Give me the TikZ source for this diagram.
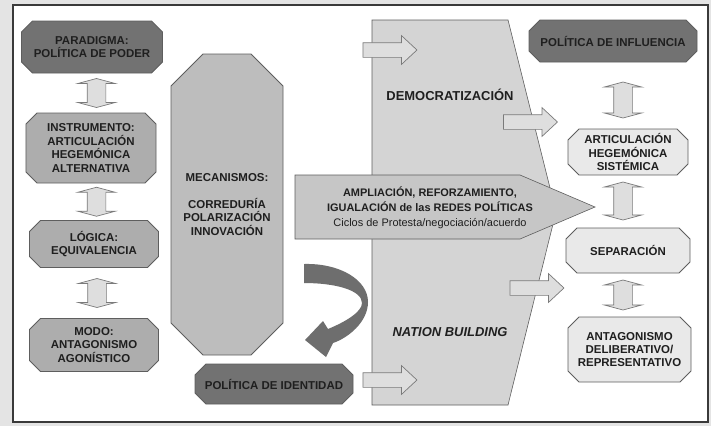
\documentclass[tikz,border=0pt]{standalone}
\usepackage{fontspec}
\setmainfont{Liberation Sans}
\usetikzlibrary{shapes.arrows,calc,backgrounds}

\definecolor{bggray}{HTML}{E4E4E4}
\definecolor{framegray}{HTML}{3A3A3A}
\definecolor{linegray}{HTML}{5E5E5E}
\definecolor{ink}{HTML}{1F1F1F}
\definecolor{boxdark}{HTML}{727272}
\definecolor{boxmid}{HTML}{ADADAD}
\definecolor{boxlight}{HTML}{E9E9E9}
\definecolor{mecgray}{HTML}{BDBDBD}
\definecolor{trapgray}{HTML}{D4D4D4}
\definecolor{pentgray}{HTML}{C6C6C6}
\definecolor{curvegray}{HTML}{6E6E6E}
\definecolor{arrowfill}{HTML}{DEDEDE}
\definecolor{arrowedge}{HTML}{7A7A7A}

% outline with cut corners round a named node
\newcommand\cutcorners[2]{%
  ($(#1.north west)+(#2,0)$) -- ($(#1.north east)+(-#2,0)$)
  -- ($(#1.north east)+(0,#2)$) -- ($(#1.south east)+(0,-#2)$)
  -- ($(#1.south east)+(-#2,0)$) -- ($(#1.south west)+(#2,0)$)
  -- ($(#1.south west)+(0,-#2)$) -- ($(#1.north west)+(0,#2)$) -- cycle}

\begin{document}
\begin{tikzpicture}[x=1bp,y=-1bp,
  box/.style={rectangle, align=center, inner sep=0pt, outer sep=0pt, text=ink,
    font=\bfseries\fontsize{11.5}{13.5}\selectfont},
  outline/.style={draw=linegray, line width=.8pt},
  bigtext/.style={text=ink, font=\bfseries\fontsize{13}{15}\selectfont},
  blockarrow/.style={single arrow, draw=arrowedge, fill=arrowfill, line width=.7pt,
    inner sep=0pt, text height=14bp, text depth=0pt, minimum height=54bp,
    single arrow head extend=7bp, single arrow tip angle=86},
  dblarrow/.style={double arrow, rotate=90, draw=arrowedge, fill=arrowfill,
    line width=.7pt, inner sep=0pt, text height=18bp, text depth=0pt,
    double arrow head extend=9.5bp, double arrow tip angle=150}]

  \useasboundingbox (0,0) rectangle (711,426);

  % left column
  \path
  node[box, minimum width=141bp, minimum height=52bp] (para) at (92,47)
    {PARADIGMA:\\POLÍTICA DE PODER}
  node[box, minimum width=130bp, minimum height=70bp] (instr) at (91,148)
    {INSTRUMENTO:\\ARTICULACIÓN\\HEGEMÓNICA\\ALTERNATIVA}
  node[box, minimum width=129bp, minimum height=47bp] (logica) at (94,244)
    {LÓGICA:\\EQUIVALENCIA}
  node[box, minimum width=129bp, minimum height=53bp] (modo) at (94,345)
    {MODO:\\ANTAGONISMO\\AGONÍSTICO}
  ;
  \node[dblarrow, minimum height=29bp] (pi) at ($(para.south)!.5!(instr.north)+(5,0)$) {};
  \node[dblarrow, minimum height=29bp] (il) at ($(instr.south)!.5!(logica.north)+(4,0)$) {};
  \node[dblarrow, minimum height=29bp] (lm) at ($(logica.south)!.5!(modo.north)+(3,0)$) {};

  % centre
  \node[box, minimum width=112bp, minimum height=301bp] (mecan) at (227,204.5)
    {MECANISMOS:\\[13.5bp]CORREDURÍA\\POLARIZACIÓN\\INNOVACIÓN};

  \path[fill=trapgray, draw=linegray, line width=.6pt]
    (372,20) -- (508,20) -- (556,212) -- (508,405) -- (372,405) -- cycle;
  \node[bigtext] (democ) at (450,95) {DEMOCRATIZACIÓN};
  \node[bigtext, font=\bfseries\itshape\fontsize{13}{15}\selectfont] (nation) at (450,332)
    {NATION BUILDING};

  \path[fill=pentgray, draw=linegray, line width=.6pt]
    (295,175) -- (520,175) -- (595,207) -- (520,239) -- (295,239) -- cycle;
  \node[align=center, text=ink, font=\bfseries\fontsize{11}{15}\selectfont] (redes) at (430,208)
    {AMPLIACIÓN, REFORZAMIENTO,\\IGUALACIÓN de las REDES POLÍTICAS\\
     {\mdseries Ciclos de Protesta/negociación/acuerdo}};

  \path[fill=curvegray]
    (304,264) .. controls (340,263) and (368,280) .. (368,302)
    .. controls (368,322) and (348,338) .. (333,343) -- (326,357) -- (305,340)
    -- (323,321) -- (328,329) .. controls (345,322) and (362,312) .. (362,303)
    .. controls (362,290) and (335,283) .. (304,283) -- cycle;

  \node[box, minimum width=158bp, minimum height=40bp] (ident) at (274,384)
    {POLÍTICA DE IDENTIDAD};

  \node[blockarrow] (in1) at (386,50) {};
  \node[blockarrow] (out1) at (526.5,122) {};
  \node[blockarrow] (out2) at (533,288) {};
  \node[blockarrow] (in2) at (386,380) {};

  % right column
  \path
  node[box, minimum width=168bp, minimum height=42bp] (influ) at (613,41)
    {POLÍTICA DE INFLUENCIA}
  node[box, minimum width=120bp, minimum height=46bp] (sist) at (628,152)
    {ARTICULACIÓN\\HEGEMÓNICA\\SISTÉMICA}
  node[box, minimum width=124bp, minimum height=45bp] (sepa) at (628,250.5)
    {SEPARACIÓN}
  node[box, minimum width=123bp, minimum height=65bp] (antag) at (629.5,349.5)
    {ANTAGONISMO\\DELIBERATIVO/\\REPRESENTATIVO}
  ;
  \node[dblarrow, minimum height=36bp] (is) at (623,100) {};
  \node[dblarrow, minimum height=38bp] (ss) at (623,201) {};
  \node[dblarrow, minimum height=30bp] (sa) at (623,295) {};

  \begin{scope}[on background layer]
    \fill[bggray] (0,0) rectangle (711,426);
    \draw[framegray, fill=white, line width=1.5pt] (13,5) rectangle (708,422);
    \path[outline, fill=boxdark] \cutcorners{para}{11};
    \path[outline, fill=boxmid] \cutcorners{instr}{11};
    \path[outline, fill=boxmid] \cutcorners{logica}{11};
    \path[outline, fill=boxmid] \cutcorners{modo}{11};
    \path[outline, fill=mecgray] \cutcorners{mecan}{32};
    \path[outline, fill=boxdark] \cutcorners{ident}{11};
    \path[outline, fill=boxdark] \cutcorners{influ}{11};
    \path[outline, fill=boxlight] \cutcorners{sist}{11};
    \path[outline, fill=boxlight] \cutcorners{sepa}{11};
    \path[outline, fill=boxlight] \cutcorners{antag}{11};
  \end{scope}
\end{tikzpicture}
\end{document}
